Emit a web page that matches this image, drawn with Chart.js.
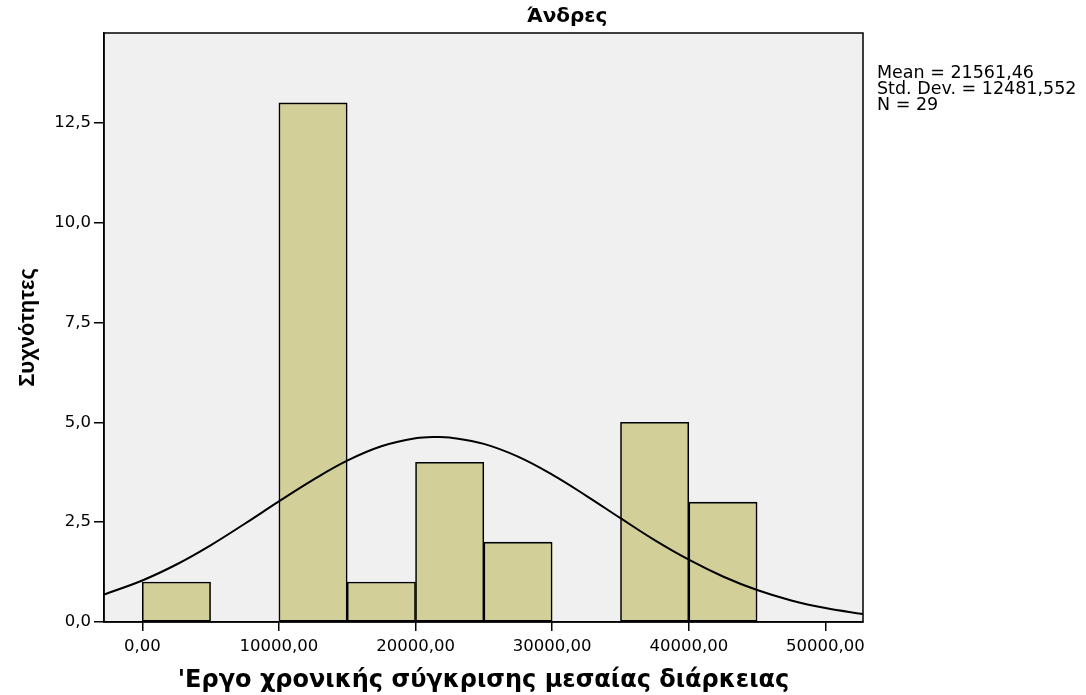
<!DOCTYPE html>
<html><head><meta charset="utf-8">
<script src="https://cdn.jsdelivr.net/npm/chart.js@4/dist/chart.umd.min.js"></script>
<style>html,body{margin:0;padding:0;background:#fff}</style>
</head><body>
<canvas id="c" width="1086" height="695" style="display:block;width:1086px;height:695px"></canvas>
<script>
// ---- data ----
const binStarts = [0, 5000, 10000, 15000, 20000, 25000, 30000, 35000, 40000];
const binWidth = 5000;
const counts = [1, 0, 13, 1, 4, 2, 0, 5, 3];
// normal curve
const curveX = [-2800, 0, 2500, 5000, 7500, 10000, 12500, 15000, 17500, 20000, 21561, 22500, 25000, 27500, 30000, 32500, 35000, 37500, 40000, 42500, 45000, 47500, 50000, 52750];
const curveY = [0.69, 1.04, 1.44, 1.92, 2.46, 3.02, 3.56, 4.04, 4.40, 4.60, 4.635, 4.62, 4.46, 4.14, 3.69, 3.16, 2.60, 2.05, 1.56, 1.14, 0.80, 0.54, 0.35, 0.20];
const xTickValues = [0, 10000, 20000, 30000, 40000, 50000];
const xTickLabels = ["0,00", "10000,00", "20000,00", "30000,00", "40000,00", "50000,00"];
const yTickValues = [0, 2.5, 5, 7.5, 10, 12.5];
const yTickLabels = ["0,0", "2,5", "5,0", "7,5", "10,0", "12,5"];
const chartTitle = "Άνδρες";
const xTitle = "'Εργο χρονικής σύγκρισης μεσαίας διάρκειας";
const yTitle = "Συχνότητες";
const statsLines = ["Mean = 21561,46", "Std. Dev. = 12481,552", "N = 29"];

// ---- chart ----
const barData = binStarts.map((s, i) => ({x: s + binWidth / 2, y: counts[i]})).filter(d => d.y > 0);
const curveData = curveX.map((x, i) => ({x: x, y: curveY[i]}));

const framePlugin = {
  id: 'frame',
  beforeDraw(chart) {
    const {ctx, chartArea: a} = chart;
    ctx.save();
    ctx.fillStyle = '#F0F0F0';
    ctx.fillRect(a.left, a.top, a.right - a.left, a.bottom - a.top);
    ctx.restore();
  },
  afterDraw(chart) {
    const {ctx, chartArea: a} = chart;
    ctx.save();
    ctx.strokeStyle = '#000';
    ctx.lineWidth = 1.5;
    ctx.strokeRect(a.left, a.top, a.right - a.left, a.bottom - a.top);
    ctx.fillStyle = '#000';
    ctx.textBaseline = 'middle';
    ctx.textAlign = 'center';
    ctx.font = 'bold 20px "DejaVu Sans"';
    ctx.fillText(chartTitle, 567, 17);
    ctx.textAlign = 'left';
    ctx.font = '17.5px "DejaVu Sans"';
    statsLines.forEach((t, i) => ctx.fillText(t, 877, 73 + i * 16));
    ctx.restore();
  }
};

new Chart(document.getElementById('c'), {
  type: 'bar',
  data: {
    datasets: [
      {type: 'line', data: curveData, borderColor: '#000', borderWidth: 2, pointRadius: 0, tension: 0.4, fill: false, order: 0},
      {type: 'bar', data: barData, backgroundColor: '#D3CF98', borderColor: '#000', borderWidth: 1.6, borderSkipped: false, barPercentage: 1, categoryPercentage: 1, order: 1}
    ]
  },
  options: {
    responsive: false,
    animation: false,
    devicePixelRatio: 1,
    layout: {padding: {left: 0, right: 223, top: 33, bottom: 0}},
    plugins: {legend: {display: false}, tooltip: {enabled: false}, title: {display: false}},
    scales: {
      x: {
        type: 'linear', min: -2800, max: 52750, offset: false,
        afterBuildTicks: s => { s.ticks = xTickValues.map(v => ({value: v})); },
        ticks: {callback: v => xTickLabels[xTickValues.indexOf(v)], font: {family: 'DejaVu Sans', size: 16.5}, color: '#000', padding: 6, maxRotation: 0, autoSkip: false},
        grid: {display: true, offset: false, drawOnChartArea: false, drawTicks: true, tickLength: 9, color: '#000', lineWidth: 1.5},
        border: {display: true, color: '#000', width: 1.5},
        title: {display: true, text: xTitle, font: {family: 'DejaVu Sans', size: 24, weight: 'bold'}, color: '#000', padding: {top: 0, bottom: 0}},
        afterFit: s => { s.height = 73; }
      },
      y: {
        type: 'linear', min: 0, max: 14.75,
        afterBuildTicks: s => { s.ticks = yTickValues.map(v => ({value: v})); },
        ticks: {callback: v => yTickLabels[yTickValues.indexOf(v)], font: {family: 'DejaVu Sans', size: 16.5}, color: '#000', padding: 3, autoSkip: false},
        grid: {display: true, offset: false, drawOnChartArea: false, drawTicks: true, tickLength: 10, color: '#000', lineWidth: 1.5},
        border: {display: true, color: '#000', width: 1.5},
        title: {display: true, text: yTitle, font: {family: 'Liberation Sans', size: 22, weight: 'bold'}, color: '#000', padding: {top: 15, bottom: 0}},
        afterFit: s => { s.width = 104; }
      }
    }
  },
  plugins: [framePlugin]
});
</script>
</body></html>
